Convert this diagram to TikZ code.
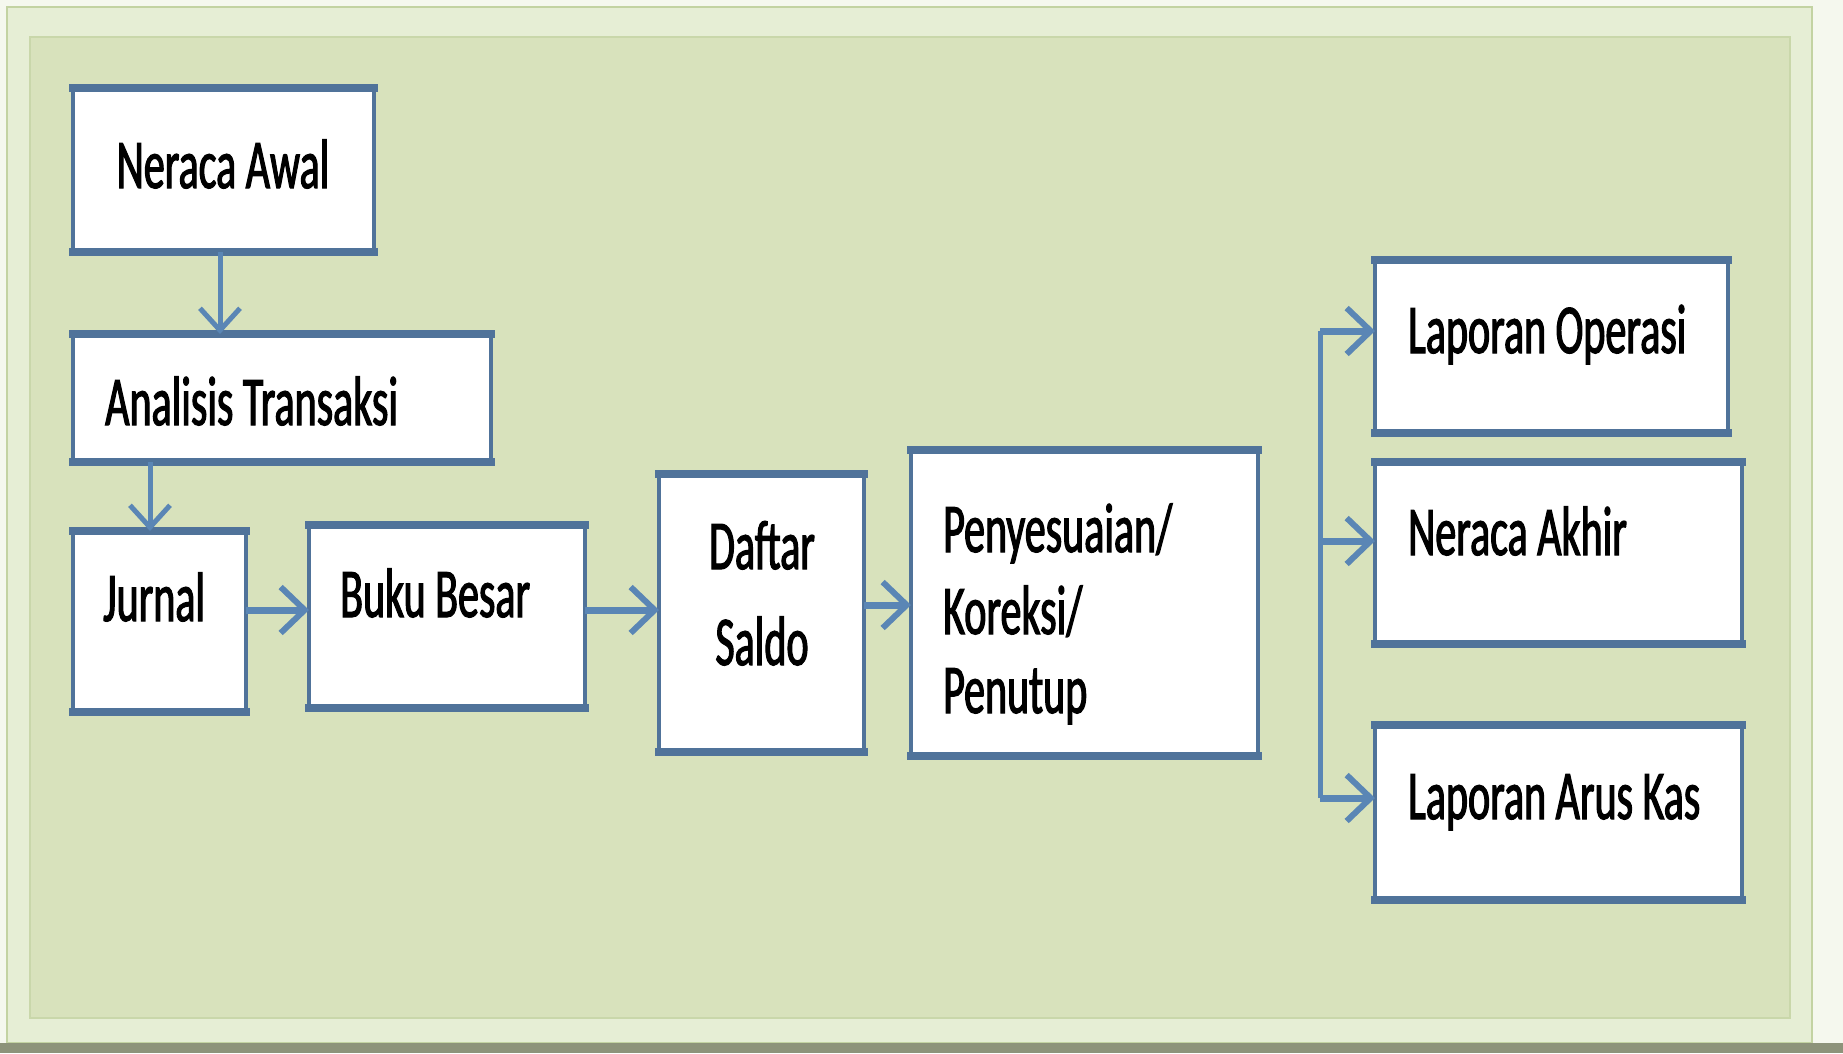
\documentclass[tikz,border=0pt]{standalone}
\usepackage{fontspec}
\setmainfont{Carlito}[FakeStretch=0.6,FakeBold=1.6]
\usetikzlibrary{arrows.meta}
\definecolor{bgin}{HTML}{D8E2BC}
\definecolor{bgband}{HTML}{E6EED5}
\definecolor{bgline}{HTML}{C3D3A2}
\definecolor{boxc}{HTML}{50739A}
\definecolor{arrc}{HTML}{5A86B5}
\tikzset{
  box/.style={draw=boxc, line width=4.5pt, fill=white, rectangle, inner sep=0pt, outer sep=0pt},
  hedge/.style={draw=boxc, line width=8pt, line cap=rect},
  lbl/.style={font=\fontsize{70}{80}\selectfont, inner sep=0pt, text=black},
  arr/.style={draw=arrc, line width=5pt, -{Straight Barb[length=22pt,width=40pt,line width=5pt]}},
  harr/.style={draw=arrc, line width=7pt, -{Straight Barb[length=24pt,width=46pt,line width=6pt]}},
  arrline/.style={draw=arrc, line width=5pt}
}
\begin{document}
\begin{tikzpicture}[x=1pt,y=-1pt]
\useasboundingbox (0,0) rectangle (1843,1053);
% frame
\fill[white!60!bgband] (0,0) rectangle (1843,1053);
\fill[bgband, draw=bgline, line width=2pt] (7,7) rectangle (1812,1043);
\fill[bgin, draw=bgline!70!bgin, line width=2pt] (30,37) rectangle (1790,1018);
\fill[black!35!bgin] (0,1043) rectangle (1843,1053);
% boxes
\node[box, minimum width=301pt, minimum height=164pt] (na) at (223.5,170) {};
\node[box, minimum width=418pt, minimum height=128pt] (at) at (282,398) {};
\node[box, minimum width=173pt, minimum height=181pt] (ju) at (159.5,621.5) {};
\node[box, minimum width=276pt, minimum height=183pt] (bb) at (447,616.5) {};
\node[box, minimum width=205pt, minimum height=278pt] (ds) at (761.5,613) {};
\node[box, minimum width=347pt, minimum height=306pt] (pk) at (1084.5,603) {};
\node[box, minimum width=353pt, minimum height=173pt] (lo) at (1551.5,346.5) {};
\node[box, minimum width=367pt, minimum height=182pt] (nk) at (1558.5,553) {};
\node[box, minimum width=367pt, minimum height=175pt] (lak) at (1558.5,812.5) {};
\foreach \b in {na,at,ju,bb,ds,pk,lo,nk,lak}{
  \draw[hedge] (\b.north west) -- (\b.north east);
  \draw[hedge] (\b.south west) -- (\b.south east);
}
% labels
\node[lbl, anchor=base] (tna) at (223,188) {Neraca Awal};
\node[lbl, anchor=base west] (tat) at (105,425) {Analisis Transaksi};
\node[lbl, anchor=base west] (tju) at (103,621) {Jurnal};
\node[lbl, anchor=base west] (tbb) at (340,617) {Buku Besar};
\node[lbl, anchor=base] (tds1) at (762,569) {Daftar};
\node[lbl, anchor=base] (tds2) at (762,665) {Saldo};
\node[lbl, anchor=base west] (tpk1) at (943,552) {Penyesuaian/};
\node[lbl, anchor=base west] (tpk2) at (943,634) {Koreksi/};
\node[lbl, anchor=base west] (tpk3) at (943,713) {Penutup};
\node[lbl, anchor=base west] (tlo) at (1408,353) {Laporan Operasi};
\node[lbl, anchor=base west] (tnk) at (1408,555) {Neraca Akhir};
\node[lbl, anchor=base west] (tlak) at (1408,819) {Laporan Arus Kas};
% connectors
\draw[arr] ([xshift=-3.5pt]na.south) -- ([xshift=-3.5pt]na.south |- at.north);
\draw[arr] ([xshift=-9.5pt]ju.north |- at.south) -- ([xshift=-9.5pt]ju.north);
\draw[harr] ([yshift=11.5pt]ju.east) -- ([yshift=11.5pt]ju.east -| bb.west);
\draw[harr] ([yshift=6.5pt]bb.east) -- ([yshift=6.5pt]bb.east -| ds.west);
\draw[harr] ([yshift=8pt]ds.east) -- ([yshift=8pt]ds.east -| pk.west);
\coordinate (bt) at (1320,331);
\coordinate (bm) at (1320,541);
\coordinate (bo) at (1320,798);
\draw[arrline] (bo) -- (bt);
\draw[harr] (bt) -- (lo.west |- bt);
\draw[harr] (bm) -- (nk.west |- bm);
\draw[harr] (bo) -- (lak.west |- bo);
\end{tikzpicture}
\end{document}
